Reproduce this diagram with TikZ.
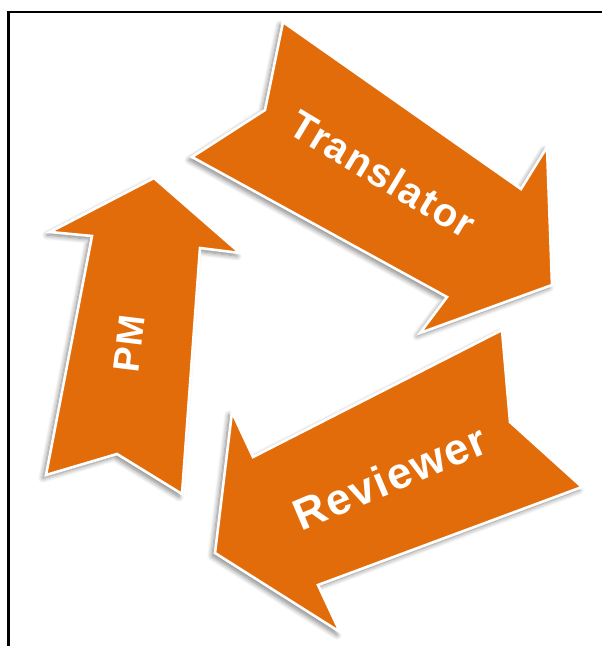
\documentclass[tikz,border=0pt]{standalone}
\usepackage{fontspec}
\setmainfont{Liberation Sans}
\usetikzlibrary{shadows.blur}
\definecolor{cycleorange}{RGB}{227,108,10}

\tikzset{
  cyclearrow/.style={fill=cycleorange, draw=white, line width=2.6pt, line join=miter,
    blur shadow={shadow xshift=-3pt, shadow yshift=-3pt, shadow blur steps=8,
      shadow blur radius=5pt, shadow opacity=50}},
  cyclelabel/.style={text=white, inner sep=0pt,
    font=\bfseries\addfontfeatures{LetterSpace=4}\fontsize{40}{40}\selectfont}
}

\begin{document}
\begin{tikzpicture}[x=1pt, y=-1pt]
    \useasboundingbox (0,0) rectangle (602,646);
    \draw[line width=2.6pt] (8.7,646) -- (8.7,12) -- (602,12);
    \path[cyclearrow] (154,178) -- (240,253) -- (200,248) -- (182,494)
      -- (117,454) -- (46,475) -- (92,236) -- (50,232) -- cycle;
    \path[cyclearrow] (283,22) -- (521,189) -- (547,147) -- (552,285)
      -- (420,333) -- (447,297) -- (192,157) -- (265,110) -- cycle;
    \path[cyclearrow] (502,330) -- (510,422) -- (582,487) -- (318,585)
      -- (340,632) -- (215,553) -- (232,412) -- (253,457) -- cycle;
    \node[cyclelabel, rotate=-31] (translator) at (383,174) {Translator};
    \node[cyclelabel, rotate=23, font=\bfseries\addfontfeatures{LetterSpace=4}\fontsize{44}{44}\selectfont]
      (reviewer) at (390,477) {Reviewer};
    \node[cyclelabel, rotate=83, font=\bfseries\addfontfeatures{LetterSpace=4}\fontsize{37}{37}\selectfont]
      (pm) at (129,344) {PM};
  \end{tikzpicture}
\end{document}
